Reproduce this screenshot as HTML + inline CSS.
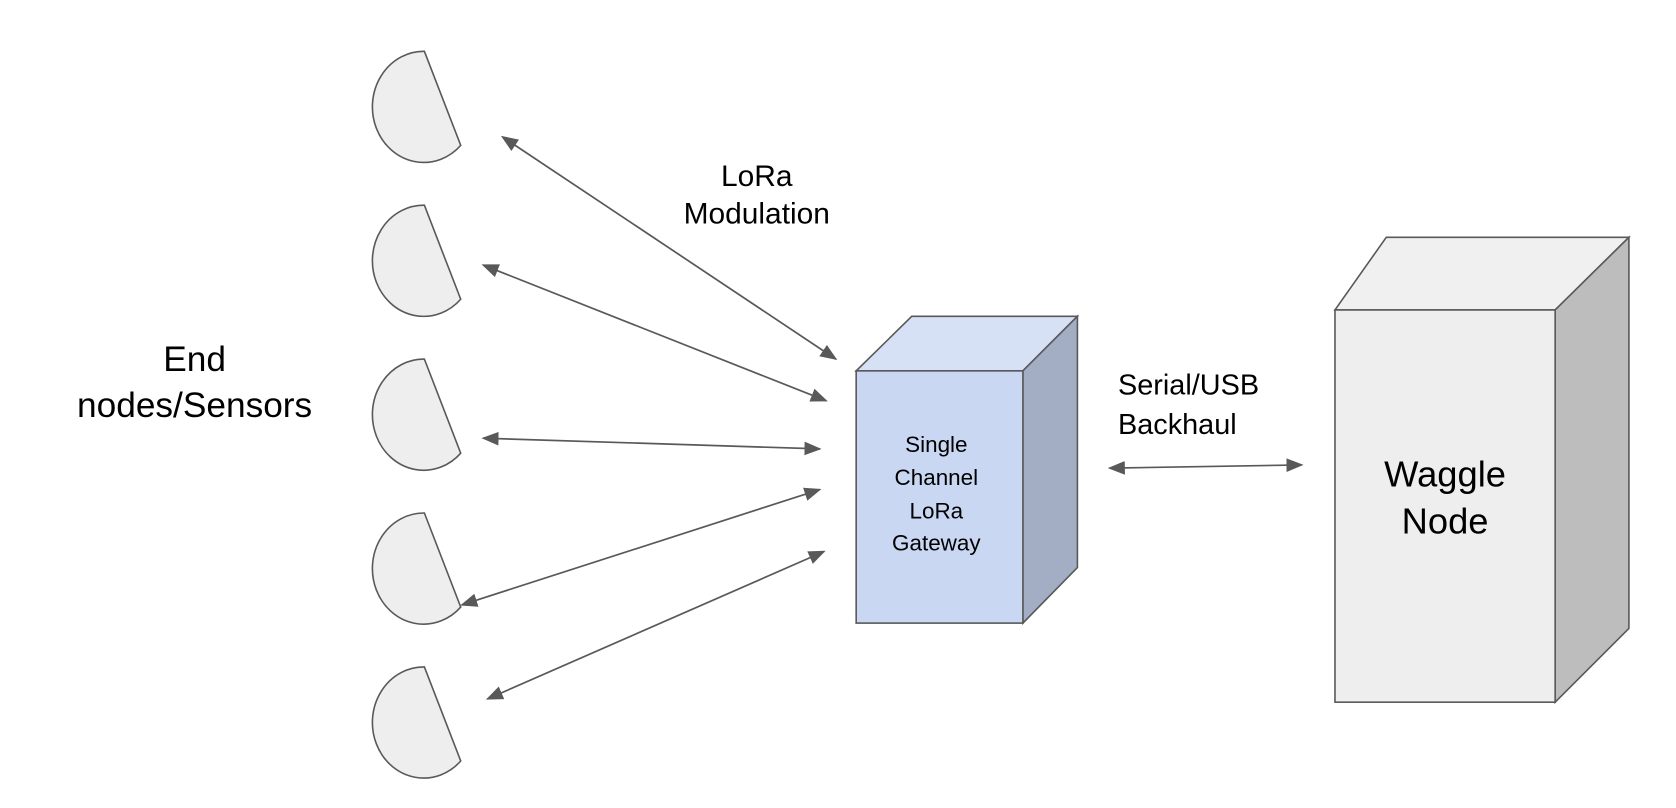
<!DOCTYPE html>
<html><head><meta charset="utf-8"><style>
html,body{margin:0;padding:0;background:#fff;}
svg{display:block;}
text{font-family:"Liberation Sans",Arial,sans-serif;fill:#000;}
</style></head><body>
<svg width="1676" height="808" viewBox="0 0 1568 756" xmlns="http://www.w3.org/2000/svg">
<defs>
<marker id="b" viewBox="0 0 10 10" refX="9" refY="5" markerWidth="16" markerHeight="16" markerUnits="userSpaceOnUse" orient="auto-start-reverse">
<path d="M0,1 L10,5 L0,9 z" fill="#595959"/>
</marker>
</defs>
<g fill="#eeeeee" stroke="#595959" stroke-width="1.5">
<path d="M397,48 L431,136 A48,52 0 1,1 397,48 Z"/>
<path d="M397,192 L431,280 A48,52 0 1,1 397,192 Z"/>
<path d="M397,336 L431,424 A48,52 0 1,1 397,336 Z"/>
<path d="M397,480 L431,568 A48,52 0 1,1 397,480 Z"/>
<path d="M397,624 L431,712 A48,52 0 1,1 397,624 Z"/>
</g>
<g stroke="#595959" stroke-width="1.6" fill="none" marker-start="url(#b)" marker-end="url(#b)">
<line x1="470" y1="128" x2="782" y2="336"/>
<line x1="452" y1="248" x2="773" y2="375"/>
<line x1="452" y1="410" x2="767" y2="420"/>
<line x1="432" y1="566" x2="767" y2="458"/>
<line x1="456" y1="654" x2="771" y2="516"/>
<line x1="1038" y1="438" x2="1218" y2="435"/>
</g>
<g stroke="#595959" stroke-width="1.5">
<polygon points="801,347 853,296 1008,296 957,347" fill="#d6e1f6"/>
<polygon points="957,347 1008,296 1008,531 957,583" fill="#a3adc4"/>
<rect x="801" y="347" width="156" height="236" fill="#c9d7f2"/>
<polygon points="1249,290 1297,222 1524,222 1455,290" fill="#f0f0f0"/>
<polygon points="1455,290 1524,222 1524,588 1455,657" fill="#bdbdbd"/>
<rect x="1249" y="290" width="206" height="367" fill="#eeeeee"/>
</g>
<g text-anchor="middle">
<text x="182" y="347" font-size="33">End</text>
<text x="182" y="390" font-size="33">nodes/Sensors</text>
<text x="708" y="174" font-size="28">LoRa</text>
<text x="708" y="209" font-size="28">Modulation</text>
<text x="876" y="423" font-size="21">Single</text>
<text x="876" y="454" font-size="21">Channel</text>
<text x="876" y="485" font-size="21">LoRa</text>
<text x="876" y="515" font-size="21">Gateway</text>
<text x="1352" y="455" font-size="34">Waggle</text>
<text x="1352" y="499" font-size="34">Node</text>
</g>
<text x="1046" y="369" font-size="27">Serial/USB</text>
<text x="1046" y="406" font-size="27">Backhaul</text>
</svg>
</body></html>
